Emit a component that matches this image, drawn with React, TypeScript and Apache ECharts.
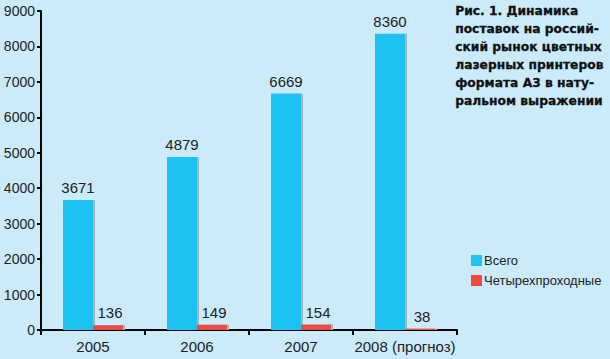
import React, { useEffect, useRef } from "react";
import * as echarts from "echarts";

const categories = ["2005", "2006", "2007", "2008 (прогноз)"];
const totalValues = [3671, 4879, 6669, 8360];
const fourPassValues = [136, 149, 154, 38];
const seriesNames = ["Всего", "Четырехпроходные"];
const titleLines = [
  "Рис. 1. Динамика",
  "поставок на россий-",
  "ский рынок цветных",
  "лазерных принтеров",
  "формата А3 в нату-",
  "ральном выражении",
];

const FONT = "'Liberation Sans', Arial, sans-serif";

export default function App() {
  const ref = useRef<HTMLDivElement>(null);
  useEffect(() => {
    if (!ref.current) return;
    const chart = echarts.init(ref.current, undefined, { renderer: "svg" });
    const barStyle = (color: string) => ({
      color,
      shadowColor: "#a8b4bc",
      shadowOffsetX: 2,
      shadowOffsetY: 0,
      shadowBlur: 0,
    });
    const label = {
      show: true,
      position: "top" as const,
      distance: 5,
      color: "#222",
      fontFamily: FONT,
      fontSize: 15,
    };
    chart.setOption({
      animation: false,
      backgroundColor: "#cbebfb",
      grid: { left: 41, top: 11, right: 153, bottom: 29, containLabel: false },
      legend: {
        orient: "vertical",
        left: 466,
        top: 249,
        itemWidth: 11,
        itemHeight: 11,
        itemGap: 7,
        icon: "rect",
        textStyle: { color: "#222", fontFamily: FONT, fontSize: 13, padding: [0, 0, 0, -3] },
        data: seriesNames,
      },
      graphic: titleLines.map((t, i) => ({
        type: "text",
        left: 455,
        top: 5 + i * 18,
        style: {
          text: t,
          fill: "#111",
          stroke: "#111",
          lineWidth: 0.3,
          font: "bold 12.3px 'DejaVu Sans', sans-serif",
        },
      })),
      xAxis: {
        type: "category",
        data: categories,
        axisLine: { lineStyle: { color: "#000", width: 2 } },
        axisTick: { show: true, length: 5, lineStyle: { color: "#000", width: 2 } },
        axisLabel: { color: "#222", fontFamily: FONT, fontSize: 15, margin: 9, interval: 0 },
      },
      yAxis: {
        type: "value",
        min: 0,
        max: 9000,
        interval: 1000,
        splitLine: { show: false },
        axisLine: { show: true, lineStyle: { color: "#000", width: 2 } },
        axisTick: { show: true, length: 4, lineStyle: { color: "#000", width: 2 } },
        axisLabel: {
          color: "#222",
          fontFamily: FONT,
          fontSize: 14,
          margin: 6,
          formatter: (v: number) => String(v),
        },
      },
      series: [
        {
          name: seriesNames[0],
          type: "bar",
          data: totalValues,
          barWidth: 30,
          barGap: "0%",
          itemStyle: barStyle("#1fc3f2"),
          label,
        },
        {
          name: seriesNames[1],
          type: "bar",
          data: fourPassValues,
          barWidth: 30,
          barGap: "0%",
          itemStyle: barStyle("#ee4a43"),
          label: { ...label, offset: [2, 0] },
        },
      ],
    });
    return () => chart.dispose();
  }, []);
  return <div ref={ref} style={{ width: 610, height: 359, position: "absolute", left: 0, top: 0 }} />;
}
